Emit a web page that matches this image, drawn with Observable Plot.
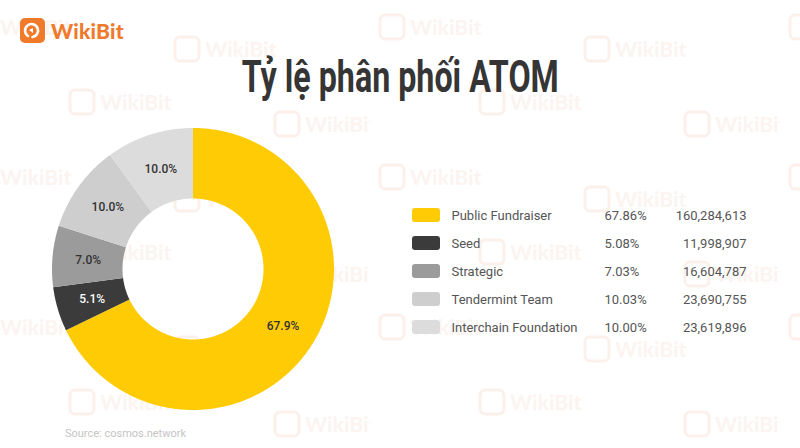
<!DOCTYPE html>
<html><head><meta charset="utf-8">
<script src="https://cdn.jsdelivr.net/npm/d3@7"></script>
<script src="https://cdn.jsdelivr.net/npm/@observablehq/plot@0.6"></script>
<style>
body{margin:0;background:#fff;}
#page{position:relative;width:800px;height:448px;overflow:hidden;background:#fff;font-family:Roboto,sans-serif;}
#wm{position:absolute;left:0;top:0;width:800px;height:448px;opacity:0.3;}
#header{position:relative;height:115px;}
#logo{position:absolute;left:20px;top:18px;display:flex;align-items:center;}
#logo span{font-family:Lato,"Open Sans",sans-serif;font-weight:900;font-size:21px;color:#EF7A2D;margin-left:6px;letter-spacing:0.2px;}
#titlewrap{position:absolute;top:50px;left:0;width:800px;text-align:center;}
#title{display:inline-block;font-family:Roboto,sans-serif;font-weight:bold;font-size:45px;color:#353535;line-height:1.2;transform-origin:50% 50%;}
#row{position:relative;display:flex;height:310px;}
#caption{position:relative;padding-left:65px;padding-top:2px;font-size:11px;color:#c4c4c4;}
</style></head>
<body><div id="page">
<svg id="wm" xmlns="http://www.w3.org/2000/svg" width="800" height="448">
<defs><pattern id="p" width="410" height="150" patternUnits="userSpaceOnUse" x="-40" y="-5">
<g fill="none" stroke="#f6cfc0" stroke-width="3"><rect x="10" y="20" width="24" height="24" rx="5"/><rect x="215" y="42" width="24" height="24" rx="5"/><rect x="110" y="95" width="24" height="24" rx="5"/><rect x="315" y="117" width="24" height="24" rx="5"/></g>
<g fill="#f8ddd3" font-family="Lato,sans-serif" font-weight="900" font-size="21"><text x="40" y="40">WikiBit</text><text x="245" y="62">WikiBit</text><text x="140" y="115">WikiBit</text><text x="345" y="137">WikiBit</text></g>
</pattern></defs>
<rect width="800" height="448" fill="url(#p)"/>
</svg>
<div id="header">
 <div id="logo"><svg width="25" height="25" viewBox="0 0 25 25"><rect width="25" height="25" rx="5" fill="#F07A2A"/><path d="M8 18 A6.5 6.5 0 1 1 12.5 19" fill="none" stroke="#fff" stroke-width="2.6" stroke-linecap="round"/><path d="M9 12 L13 10 L13 15 Z" fill="#fff"/></svg><span>WikiBit</span></div>
 <div id="titlewrap"><div id="title">Tỷ lệ phân phối ATOM</div></div>
</div>
<div id="row"><div id="donut"></div><div id="legend"></div></div>
<div id="caption">Source: cosmos.network</div>
</div>
<script>
const categories = ["Public Fundraiser","Seed","Strategic","Tendermint Team","Interchain Foundation"];
const percents = [67.86, 5.08, 7.03, 10.03, 10.00];
const amounts = [160284613, 11998907, 16604787, 23690755, 23619896];
const colors = ["#FFCB05","#3b3b3b","#9b9b9b","#cecece","#dcdcdc"];
const labelColors = ["#333","#fff","#333","#333","#333"];

const t = document.getElementById("title");
t.style.transform = `scaleX(${317 / t.getBoundingClientRect().width})`;

const rows = categories.map((name, i) => ({name, pct: percents[i], amount: amounts[i], lc: labelColors[i]}));
const arcs = d3.pie().sort(null).value(d => d.pct)(rows);
const inner = 0.5, labelR = 0.75;
const ring = [];
for (const a of arcs) {
  const n = Math.max(2, Math.ceil((a.endAngle - a.startAngle) / 0.01));
  for (let k = 0; k <= n; k++) {
    const th = a.startAngle + (a.endAngle - a.startAngle) * k / n;
    ring.push({name: a.data.name, x1: Math.sin(th), y1: Math.cos(th), x2: inner * Math.sin(th), y2: inner * Math.cos(th)});
  }
}
const labels = arcs.map(a => {
  const m = (a.startAngle + a.endAngle) / 2;
  return {x: labelR * Math.sin(m), y: labelR * Math.cos(m), text: a.data.pct.toFixed(1) + "%", lc: a.data.lc};
});

const R = 141, cx = 193, cy = 154, W1 = 412, H = 310;
const color = {domain: categories, range: colors};
const donut = Plot.plot({
  width: W1, height: H, margin: 0,
  x: {domain: [-cx / R, (W1 - cx) / R], range: [0, W1], axis: null},
  y: {domain: [-(H - cy) / R, cy / R], range: [H, 0], axis: null},
  color,
  style: {background: "transparent", fontFamily: "Roboto, sans-serif"},
  marks: [
    Plot.area(ring, {x1: "x1", y1: "y1", x2: "x2", y2: "y2", z: "name", fill: "name", curve: "linear"}),
    Plot.text(labels, {x: "x", y: "y", text: "text", fill: d => d.lc, fontSize: 12, fontWeight: 500})
  ]
});
document.getElementById("donut").append(donut);

const W2 = 388;
const legend = Plot.plot({
  width: W2, height: H, margin: 0,
  x: {domain: [0, W2], range: [0, W2], axis: null},
  y: {type: "band", domain: categories, range: [86, 226], paddingInner: 0.5, paddingOuter: 0.25, axis: null},
  color,
  style: {background: "transparent", fontFamily: "Roboto, sans-serif"},
  marks: [
    Plot.barX(rows, {x1: 0, x2: 28, y: "name", fill: "name", rx: 3}),
    Plot.text(rows, {x: 39, y: "name", text: "name", textAnchor: "start", fill: "#555", fontSize: 13}),
    Plot.text(rows, {x: 192, y: "name", text: d => d.pct.toFixed(2) + "%", textAnchor: "start", fill: "#555", fontSize: 13}),
    Plot.text(rows, {x: 334, y: "name", text: d => d3.format(",")(d.amount), textAnchor: "end", fill: "#555", fontSize: 13})
  ]
});
document.getElementById("legend").append(legend);
</script>
</body></html>
